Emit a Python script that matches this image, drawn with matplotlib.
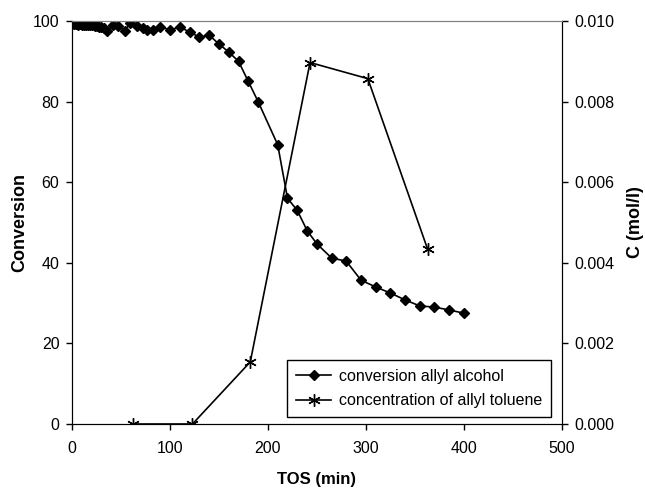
import matplotlib.pyplot as plt
from matplotlib.ticker import FormatStrFormatter

plt.rcParams['font.family'] = ['Liberation Sans', 'DejaVu Sans']

# conversion of allyl alcohol (left axis)
tos_conv = [0, 2, 4, 6, 8, 10, 12, 14, 16, 18, 20, 22, 24, 26, 28, 30, 33,
            36, 42, 47, 54, 59, 66, 72, 77, 83, 90, 100, 110, 120, 130, 140,
            150, 160, 170, 180, 190, 210, 220, 230, 240, 250, 265, 280, 295,
            310, 325, 340, 355, 370, 385, 400]
conversion = [99.3, 99.2, 99.2, 99.1, 99.2, 99.1, 99.0, 99.1, 99.0, 99.0, 99.0,
              98.9, 98.8, 98.8, 98.6, 98.5, 98.3,
              97.5, 99.0, 98.8, 97.6, 99.4, 98.8, 98.3, 97.7, 97.8, 98.6, 97.8,
              98.5, 97.3, 96.0, 96.5,
              94.3, 92.3, 90.0, 85.0, 80.0, 69.3, 56.0, 53.0, 48.0, 44.7, 41.2,
              40.4, 35.7, 34.0, 32.5, 30.8, 29.3, 29.0, 28.3, 27.5]

# concentration of allyl toluene (right axis)
tos_conc = [62, 123, 182, 243, 302, 363]
concentration = [0.0, 0.0, 0.00154, 0.00897, 0.00857, 0.00434]

fig = plt.figure(figsize=(6.45, 4.9), dpi=100)
ax = fig.add_axes([0.1116, 0.1347, 0.7594, 0.8224])
ax2 = ax.twinx()

l1, = ax.plot(tos_conv, conversion, color='black', lw=1.2, marker='D',
              markersize=5.5, label='conversion allyl alcohol')
l2, = ax2.plot(tos_conc, concentration, color='black', lw=1.2,
               marker=(6, 2, 0), markersize=9, markeredgewidth=1,
               label='concentration of allyl toluene')

ax.set_xlim(0, 500)
ax.set_ylim(0, 100)
ax2.set_ylim(0, 0.010)
ax.set_xticks(range(0, 501, 100))
ax.set_yticks(range(0, 101, 20))
ax2.set_yticks([0, 0.002, 0.004, 0.006, 0.008, 0.010])
ax2.yaxis.set_major_formatter(FormatStrFormatter('%.3f'))

for a in (ax, ax2):
    a.tick_params(direction='out', length=4, width=1, labelsize=11.5, pad=5,
                  color='black')
    a.spines['top'].set_color('#808080')
    for s in ('left', 'right', 'bottom'):
        a.spines[s].set_color('black')
ax.tick_params(axis='x', pad=8)

ax.set_xlabel('TOS (min)', fontsize=12, fontweight='bold', labelpad=12)
ax.set_ylabel('Conversion', fontsize=13, fontweight='bold')
ax2.set_ylabel('C (mol/l)', fontsize=13, fontweight='bold')
ax.yaxis.set_label_coords(-0.09, 0.5)
ax2.yaxis.set_label_coords(1.133, 0.5)

leg = ax.legend(handles=[l1, l2], loc='lower right', bbox_to_anchor=(0.995, -0.003),
                fontsize=11.5, fancybox=False, edgecolor='black', framealpha=1,
                handlelength=2.2, borderpad=0.55, labelspacing=0.6,
                handletextpad=0.5)
leg.get_frame().set_linewidth(1)

fig.savefig('out.png', dpi=100)
